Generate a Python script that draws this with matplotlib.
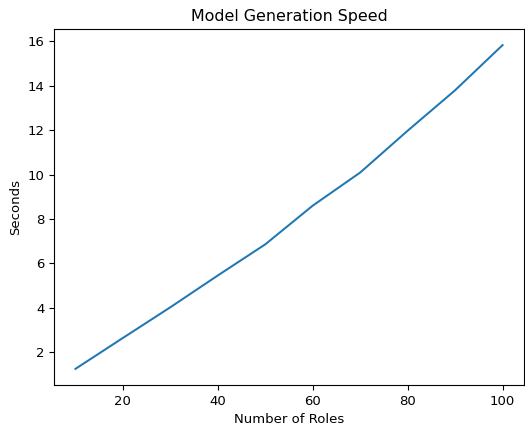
import matplotlib
matplotlib.use("Agg")
import matplotlib.pyplot as plt

# Generation time per number of roles
num_roles = [10, 20, 30, 40, 50, 60, 70, 80, 90, 100]
seconds = [1.26, 2.65, 4.03, 5.46, 6.86, 8.6, 10.09, 11.97, 13.79, 15.82]

plt.rcParams["font.size"] = 9.5
plt.rcParams["axes.titlesize"] = 11.4

fig = plt.figure(figsize=(5.25, 4.25), dpi=100)
ax = fig.add_axes([0.103, 0.094, 0.895, 0.838])

ax.plot(num_roles, seconds, color="#1f77b4", linewidth=1.45)
ax.set_title("Model Generation Speed")
ax.set_xlabel("Number of Roles", labelpad=3.5)
ax.set_ylabel("Seconds")

fig.savefig("out.png", dpi=100)
